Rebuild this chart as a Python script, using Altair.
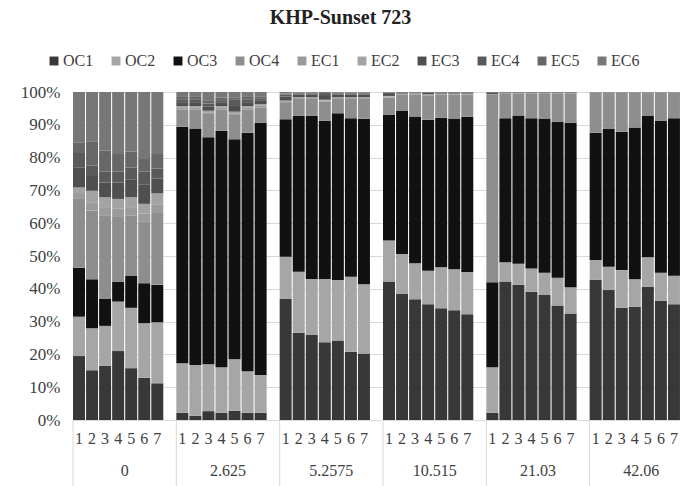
import altair as alt
import pandas as pd

groups = ["0", "2.625", "5.2575", "10.515", "21.03", "42.06"]
bars = [1, 2, 3, 4, 5, 6, 7]
series = ["OC1", "OC2", "OC3", "OC4", "EC1", "EC2", "EC3", "EC4", "EC5", "EC6"]
colors = ["#383838", "#a6a6a6", "#111111", "#8e8e8e", "#9b9b9b",
          "#a3a3a3", "#4f4f4f", "#5a5a5a", "#676767", "#777777"]

# values in percent, 7 bars per group, groups in order
OC1 = [19.5, 15.2, 16.5, 21.0, 15.8, 12.9, 11.2,
       2.2, 1.3, 2.7, 2.2, 2.8, 2.2, 2.2,
       36.9, 26.6, 25.9, 23.7, 24.2, 20.8, 20.3,
       42.2, 38.4, 36.8, 35.3, 34.1, 33.5, 32.3,
       2.2, 42.2, 41.2, 39.1, 38.1, 34.9, 32.5,
       42.7, 39.6, 34.2, 34.5, 40.6, 36.3, 35.3]
OC2 = [12.0, 12.8, 12.2, 15.1, 18.4, 16.6, 18.6,
       15.1, 15.5, 14.3, 13.9, 15.7, 12.7, 11.5,
       12.9, 18.6, 17.1, 19.3, 18.5, 22.9, 21.1,
       12.5, 12.2, 11.0, 10.2, 12.5, 12.5, 12.9,
       13.9, 5.9, 6.4, 7.1, 6.8, 8.5, 8.0,
       6.1, 7.1, 11.5, 8.4, 9.0, 8.6, 8.7]
OC3 = [14.9, 14.9, 8.2, 6.1, 9.7, 12.2, 11.4,
       72.1, 72.1, 69.2, 72.1, 67.1, 72.7, 76.9,
       41.9, 47.5, 49.7, 48.2, 50.8, 48.3, 50.4,
       38.3, 43.6, 44.7, 46.0, 45.6, 46.0, 47.3,
       25.9, 43.9, 45.2, 45.8, 47.0, 47.5, 50.1,
       38.8, 42.0, 42.2, 46.3, 43.2, 46.3, 48.0]
OC4 = [21.0, 21.0, 25.5, 19.7, 18.5, 18.7, 21.9,
       5.3, 5.8, 7.1, 6.5, 7.4, 7.1, 4.7,
       5.2, 5.2, 5.2, 5.9, 4.4, 5.9, 6.1,
       5.3, 5.0, 6.8, 7.5, 7.1, 7.3, 6.8,
       57.1, 7.4, 6.6, 7.4, 7.5, 8.5, 8.8,
       12.2, 11.1, 11.9, 10.6, 7.0, 8.6, 7.8]
EC1 = [1.5, 2.5, 2.5, 2.5, 2.5, 2.5, 2.5,
       0.5, 0.5, 0.5, 0.5, 0.5, 0.5, 0.5,
       0.3, 0.3, 0.3, 0.3, 0.3, 0.3, 0.3,
       0.3, 0.2, 0.2, 0.2, 0.2, 0.2, 0.2,
       0.1, 0.1, 0.1, 0.1, 0.1, 0.1, 0.1,
       0.05, 0.05, 0.05, 0.05, 0.05, 0.05, 0.05]
EC2 = [2.0, 3.5, 3.0, 3.0, 3.0, 3.0, 3.5,
       0.5, 0.5, 0.5, 0.5, 0.5, 0.5, 0.5,
       0.2, 0.2, 0.2, 0.2, 0.2, 0.2, 0.2,
       0.2, 0.1, 0.1, 0.1, 0.1, 0.1, 0.1,
       0.1, 0.1, 0.1, 0.1, 0.1, 0.1, 0.1,
       0.05, 0.05, 0.05, 0.05, 0.05, 0.05, 0.05]
EC3 = [6.0, 4.5, 4.5, 5.0, 5.5, 5.8, 4.5,
       1.2, 1.2, 1.2, 1.0, 2.0, 1.2, 1.0,
       1.2, 0.8, 0.8, 1.2, 0.8, 0.8, 0.8,
       0.6, 0.3, 0.2, 0.4, 0.3, 0.3, 0.3,
       0.4, 0.2, 0.2, 0.2, 0.2, 0.2, 0.2,
       0.05, 0.05, 0.05, 0.05, 0.05, 0.05, 0.05]
EC4 = [4.5, 3.1, 3.3, 3.3, 3.6, 4.0, 3.1,
       0.9, 0.9, 1.0, 0.8, 1.6, 0.9, 0.8,
       0.6, 0.4, 0.4, 0.6, 0.4, 0.4, 0.4,
       0.3, 0.1, 0.1, 0.2, 0.1, 0.1, 0.1,
       0.2, 0.1, 0.1, 0.1, 0.1, 0.1, 0.1,
       0.05, 0.05, 0.05, 0.05, 0.05, 0.05, 0.05]
EC5 = [3.1, 7.5, 6.4, 5.4, 4.8, 3.9, 4.4,
       0.7, 0.7, 1.0, 0.8, 0.8, 0.7, 0.6,
       0.3, 0.2, 0.2, 0.3, 0.2, 0.2, 0.2,
       0.1, 0.05, 0.05, 0.05, 0.05, 0.05, 0.05,
       0.05, 0.05, 0.05, 0.05, 0.05, 0.05, 0.05,
       0.0, 0.0, 0.0, 0.0, 0.0, 0.0, 0.0]
EC6 = [15.5, 15.0, 17.9, 18.9, 18.2, 20.4, 18.9,
       1.5, 1.5, 2.5, 1.7, 1.6, 1.5, 1.3,
       0.5, 0.2, 0.2, 0.3, 0.2, 0.2, 0.2,
       0.2, 0.05, 0.05, 0.05, 0.05, 0.05, 0.05,
       0.05, 0.05, 0.05, 0.05, 0.05, 0.05, 0.05,
       0.0, 0.0, 0.0, 0.0, 0.0, 0.0, 0.0]

values = [OC1, OC2, OC3, OC4, EC1, EC2, EC3, EC4, EC5, EC6]

rows = []
for gi, g in enumerate(groups):
    for bi, b in enumerate(bars):
        for si, s in enumerate(series):
            rows.append({"group": g, "bar": b, "series": s, "order": si,
                         "value": values[si][gi * 7 + bi]})
df = pd.DataFrame(rows)
df_lab = pd.DataFrame([{"group": g, "bar": b} for g in groups for b in bars])
df_sep = pd.DataFrame({"group": groups})

FONT = "Liberation Serif"
TXT = "#404040"
W, H = 607, 328

xscale = alt.Scale(domain=groups, range=[0, 620], paddingInner=0, paddingOuter=0)
xoff = alt.Scale(domain=[1, 2, 3, 4, 5, 6, 7, 8], paddingInner=0.08, paddingOuter=0)

bars_layer = alt.Chart(df).mark_bar(clip=True).encode(
    x=alt.X("group:N", sort=groups, scale=xscale,
            axis=alt.Axis(title=None, domain=False, ticks=False, grid=False,
                          labelAngle=0, labelPadding=42, labelFont=FONT,
                          labelFontSize=16, labelColor=TXT)),
    xOffset=alt.XOffset("bar:O", scale=xoff),
    y=alt.Y("value:Q", stack="normalize", scale=alt.Scale(domain=[0, 1]),
            axis=alt.Axis(title=None, format=".0%", domain=False, ticks=False,
                          values=[0, 0.1, 0.2, 0.3, 0.4, 0.5, 0.6, 0.7, 0.8, 0.9, 1.0],
                          labelPadding=13, labelFont=FONT, labelFontSize=17,
                          labelColor=TXT, gridColor="#d9d9d9")),
    color=alt.Color("series:N", scale=alt.Scale(domain=series, range=colors),
                    legend=alt.Legend(title=None, orient="none", legendX=-27, legendY=-39,
                                      direction="horizontal", columns=10,
                                      symbolType="square", symbolSize=80,
                                      symbolStrokeWidth=0, labelFont=FONT,
                                      labelFontSize=16, labelColor=TXT,
                                      columnPadding=14, labelOffset=1)),
    order=alt.Order("order:Q", sort="ascending"),
)

labels_layer = alt.Chart(df_lab).mark_text(font=FONT, fontSize=16, color=TXT,
                                           baseline="middle").encode(
    x=alt.X("group:N", sort=groups),
    xOffset=alt.XOffset("bar:O"),
    y=alt.value(347),
    text="bar:N",
)

sep_layer = alt.Chart(df_sep).mark_rule(color="#d9d9d9", strokeWidth=1).encode(
    x=alt.X("group:N", sort=groups, bandPosition=0),
    y=alt.value(328),
    y2=alt.value(394),
)

chart = alt.layer(bars_layer, sep_layer, labels_layer).properties(
    width=W, height=H,
    title=alt.Title("KHP-Sunset 723", font=FONT, fontSize=20, fontWeight="bold",
                    color="#222222", anchor="middle", dx=-36, offset=25),
    autosize=alt.AutoSizeParams(type="none"),
    padding={"left": 73, "top": 92, "right": 0, "bottom": 66},
).configure_view(stroke=None)

chart.save("out.html", embed_options={"renderer": "svg", "actions": False})
